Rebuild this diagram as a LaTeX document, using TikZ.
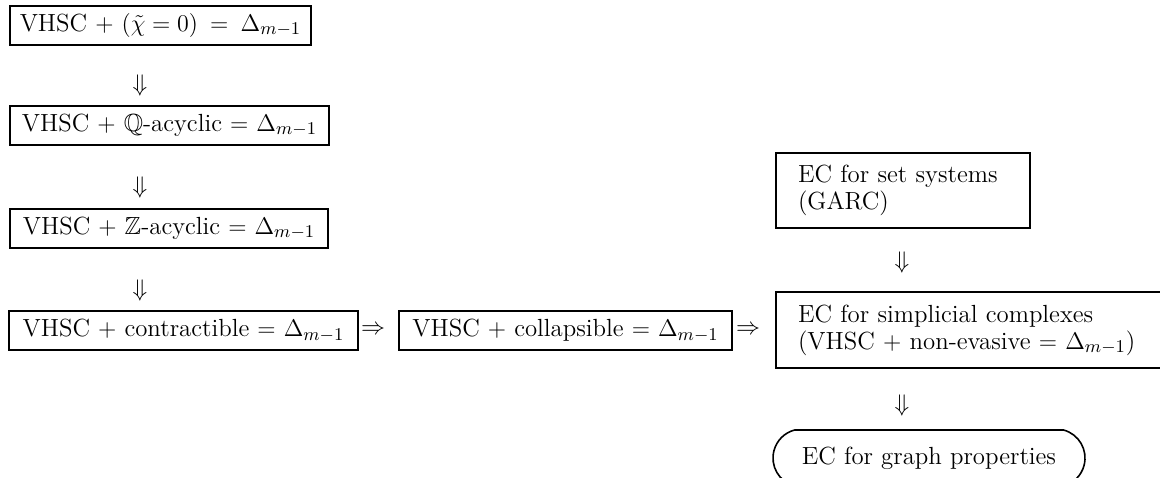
\documentclass[tikz,border=0pt]{standalone}
\usepackage{amssymb}
\usetikzlibrary{shapes.misc}
\begin{document}
\begin{tikzpicture}[x=0.5pt,y=-0.5pt,
  every node/.style={font=\fontsize{12.4}{13.5}\selectfont},
  box/.style={draw,line width=1pt,inner sep=0pt,minimum height=19.5pt},
  tbox/.style={draw,line width=1pt,inner xsep=11pt,inner ysep=0pt,align=left,anchor=west},
  garrow/.style={inner sep=0pt}]
\useasboundingbox (0,0) rectangle (1160,477);
\clip (0,0) rectangle (1160,477);
\node[box,minimum width=150.5pt] (b1) at (160.5,25) {VHSC $+$ $(\tilde{\chi} = 0)$ \,$=$\, $\Delta_{m-1}$};
\node[box,minimum width=159.5pt] (b2) at (169.5,125) {VHSC $+$ $\mathbb{Q}$-acyclic $=$ $\Delta_{m-1}$};
\node[box,minimum width=159pt] (b3) at (169,228) {VHSC $+$ $\mathbb{Z}$-acyclic $=$ $\Delta_{m-1}$};
\node[box,minimum width=174.5pt] (b4) at (183.5,330.5) {VHSC $+$ contractible $=$ $\Delta_{m-1}$};
\node[box,minimum width=166.5pt] (b5) at (565.5,330.5) {VHSC $+$ collapsible $=$ $\Delta_{m-1}$};
\node[tbox,text width=188pt,minimum height=38pt] (b6) at (775,330) {EC for simplicial complexes\\(VHSC $+$ non-evasive $=$ $\Delta_{m-1}$)};
\node[tbox,text width=105pt,minimum height=37.5pt] (s) at (775,190.5) {EC for set systems\\(GARC)};
\node[draw,line width=0.8pt,rounded rectangle,rounded rectangle arc length=150,minimum width=156pt,minimum height=28pt,inner sep=0pt] (g) at (929,458) {EC for graph properties};
\node[garrow] (d1) at (140,85) {$\Downarrow$};
\node[garrow] (d2) at (140,187) {$\Downarrow$};
\node[garrow] (d3) at (140,290) {$\Downarrow$};
\node[garrow] (d4) at (902,262) {$\Downarrow$};
\node[garrow] (d5) at (902,405) {$\Downarrow$};
\node[garrow] (r1) at (373,330) {$\Rightarrow$};
\node[garrow] (r2) at (748,330) {$\Rightarrow$};
\end{tikzpicture}
\end{document}
